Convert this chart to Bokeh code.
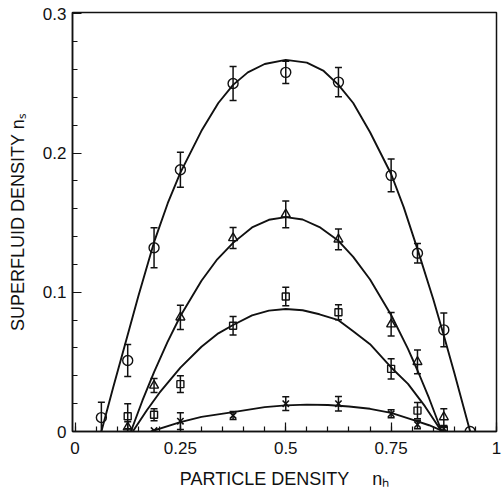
import math
from bokeh.plotting import figure
from bokeh.models import ColumnDataSource, Whisker, TeeHead, FixedTicker, Range1d
from bokeh.embed import file_html
from bokeh.resources import INLINE

# ---------------- data ----------------
# circles (top series)
circ_x = [1/16, 2/16, 3/16, 4/16, 6/16, 8/16, 10/16, 12/16, 13/16, 14/16, 15/16]
circ_y = [0.010, 0.051, 0.132, 0.188, 0.250, 0.258, 0.251, 0.184, 0.128, 0.073, 0.0]
circ_e = [0.011, 0.0115, 0.0144, 0.0126, 0.0122, 0.008, 0.0105, 0.0117, 0.007, 0.0122, 0.0]

# triangles
tri_x = [2/16, 3/16, 4/16, 6/16, 8/16, 10/16, 12/16, 13/16, 14/16]
tri_y = [0.003, 0.033, 0.082, 0.139, 0.156, 0.138, 0.077, 0.050, 0.0103]
tri_e = [0.004, 0.005, 0.0087, 0.0075, 0.0096, 0.0075, 0.0084, 0.0086, 0.006]

# squares
sq_x = [2/16, 3/16, 4/16, 6/16, 8/16, 10/16, 12/16, 13/16, 14/16]
sq_y = [0.011, 0.012, 0.034, 0.076, 0.097, 0.0857, 0.045, 0.015, 0.001]
sq_e = [0.009, 0.0043, 0.006, 0.0066, 0.0067, 0.0054, 0.0072, 0.0058, 0.002]

# crosses
cr_x = [3/16, 4/16, 6/16, 8/16, 10/16, 12/16, 13/16, 14/16]
cr_y = [0.0007, 0.0074, 0.0115, 0.020, 0.020, 0.0127, 0.005, 0.002]
cr_e = [0.0, 0.006, 0.0029, 0.005, 0.0052, 0.0029, 0.003, 0.002]

# fitted curves
c1_x = [0.0625, 0.09, 0.12, 0.15, 0.1875, 0.22, 0.25, 0.3, 0.34, 0.375, 0.41, 0.45, 0.5,
        0.55, 0.59, 0.625, 0.66, 0.7, 0.75, 0.78, 0.8125, 0.85, 0.875, 0.9, 0.9375]
c1_y = [0.0, 0.031, 0.064, 0.097, 0.136, 0.164, 0.186, 0.216, 0.236, 0.249, 0.258, 0.264, 0.267,
        0.265, 0.259, 0.249, 0.236, 0.215, 0.185, 0.161, 0.131, 0.095, 0.069, 0.042, 0.0]

c2_x = [0.1325, 0.16, 0.1875, 0.219, 0.25, 0.3, 0.3375, 0.375, 0.42, 0.46, 0.5, 0.54, 0.58,
        0.625, 0.66, 0.7, 0.75, 0.79, 0.8125, 0.84, 0.87]
c2_y = [0.0, 0.0223, 0.0427, 0.064, 0.083, 0.1083, 0.1237, 0.1355, 0.1466, 0.1521, 0.154, 0.1523,
        0.1469, 0.137, 0.1254, 0.1092, 0.0837, 0.0594, 0.044, 0.0239, 0.0]

c3_x = [0.137, 0.17, 0.2, 0.25, 0.3, 0.34, 0.375, 0.42, 0.46, 0.5, 0.54, 0.58, 0.625, 0.66,
        0.7, 0.75, 0.79, 0.83, 0.87]
c3_y = [0.0, 0.0151, 0.0277, 0.0459, 0.0609, 0.0705, 0.0765, 0.0834, 0.0868, 0.088, 0.0871,
        0.0842, 0.080, 0.072, 0.0627, 0.046, 0.0342, 0.0182, 0.0]

c4_x = [0.18, 0.25, 0.3, 0.375, 0.45, 0.5, 0.55, 0.6, 0.65, 0.7, 0.75, 0.8, 0.84, 0.875]
c4_y = [0.0, 0.0067, 0.0105, 0.0139, 0.0175, 0.0188, 0.0193, 0.019, 0.018, 0.0163, 0.0134,
        0.0085, 0.0045, 0.0]

x_ticks = [0, 0.25, 0.5, 0.75, 1]
x_tick_labels = ["0", "0.25", "0.5", "0.75", "1"]
y_ticks = [0, 0.1, 0.2, 0.3]
y_tick_labels = ["0", "0.1", "0.2", "0.3"]

x_title = "PARTICLE DENSITY\u2003 n\u2095"
y_title = "SUPERFLUID DENSITY n\u209b"

# ---------------- figure ----------------
INK = "#111111"
FONT = "Liberation Sans"

p = figure(width=502, height=494, output_backend="svg", toolbar_location=None,
           x_range=Range1d(-0.006, 1.0), y_range=Range1d(0, 0.301),
           min_border_left=72, min_border_right=6, min_border_top=12, min_border_bottom=63)
p.xgrid.visible = False
p.ygrid.visible = False
p.outline_line_color = INK
p.outline_line_width = 1.5
p.background_fill_color = "white"
p.border_fill_color = "white"

x_minor = [i * 0.05 for i in range(21)]
y_minor = [i * 0.02 for i in range(16)]
p.xaxis.ticker = FixedTicker(ticks=x_ticks, minor_ticks=x_minor)
p.yaxis.ticker = FixedTicker(ticks=y_ticks, minor_ticks=y_minor)
p.xaxis.major_label_overrides = {float(t): s for t, s in zip(x_ticks, x_tick_labels)}
p.yaxis.major_label_overrides = {float(t): s for t, s in zip(y_ticks, y_tick_labels)}

for ax in (p.xaxis, p.yaxis):
    ax.axis_line_color = INK
    ax.axis_line_width = 1.5
    ax.major_tick_in = 9
    ax.major_tick_out = 0
    ax.minor_tick_in = 5
    ax.minor_tick_out = 0
    ax.major_tick_line_color = INK
    ax.minor_tick_line_color = INK
    ax.major_tick_line_width = 1.2
    ax.minor_tick_line_width = 1.2
    ax.major_label_text_font = FONT
    ax.major_label_text_font_size = "17px"
    ax.major_label_text_color = INK
    ax.axis_label_text_font = FONT
    ax.axis_label_text_font_size = "18px"
    ax.axis_label_text_font_style = "normal"
    ax.axis_label_text_color = INK
p.xaxis.major_label_standoff = 10
p.yaxis.major_label_standoff = 6
p.xaxis.axis_label = x_title
p.yaxis.axis_label = y_title
p.xaxis.axis_label_standoff = 12
p.yaxis.axis_label_standoff = 12

# curves
for cx, cy in ((c1_x, c1_y), (c2_x, c2_y), (c3_x, c3_y), (c4_x, c4_y)):
    p.line(cx, cy, line_color=INK, line_width=1.9)

# error bars
def add_errors(xs, ys, es):
    pts = [(x, y, e) for x, y, e in zip(xs, ys, es) if e > 0]
    src = ColumnDataSource(dict(x=[a for a, _, _ in pts],
                                lo=[b - c for _, b, c in pts],
                                hi=[b + c for _, b, c in pts]))
    w = Whisker(source=src, base="x", lower="lo", upper="hi", dimension="height",
                line_color=INK, line_width=1.5,
                upper_head=TeeHead(size=7, line_color=INK, line_width=1.5),
                lower_head=TeeHead(size=7, line_color=INK, line_width=1.5))
    p.add_layout(w)

add_errors(circ_x, circ_y, circ_e)
add_errors(tri_x, tri_y, tri_e)
add_errors(sq_x, sq_y, sq_e)
add_errors(cr_x, cr_y, cr_e)

# markers
p.scatter(circ_x, circ_y, marker="circle", size=10, fill_alpha=0, line_color=INK, line_width=1.4)
p.scatter(tri_x, tri_y, marker="triangle", size=9, fill_alpha=0, line_color=INK, line_width=1.4)
p.scatter(sq_x, sq_y, marker="square", size=7, fill_alpha=0, line_color=INK, line_width=1.4)
p.scatter(cr_x, cr_y, marker="x", size=9, line_color=INK, line_width=1.6)

open("out.html", "w").write(file_html(p, INLINE))
